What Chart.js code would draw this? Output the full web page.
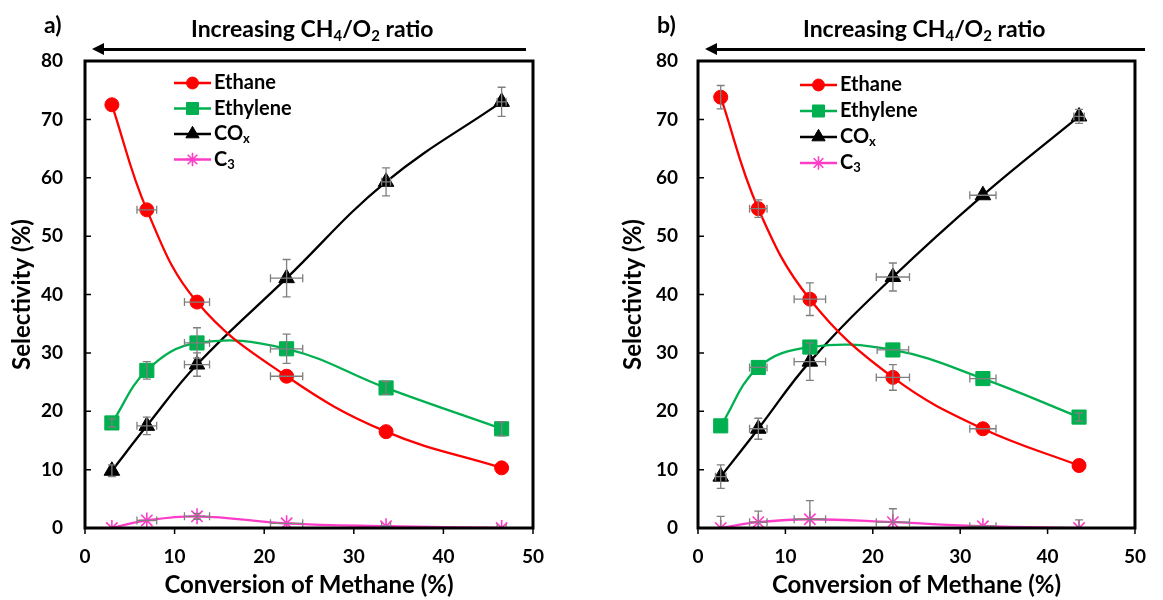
<!DOCTYPE html>
<html>
<head>
<meta charset="utf-8">
<script src="https://cdn.jsdelivr.net/npm/chart.js@4.4.0/dist/chart.umd.min.js"></script>
<style>
  body { margin: 0; background: #fff; font-family: Lato, 'Open Sans', sans-serif; }
  #wrap { position: relative; width: 1163px; height: 600px; overflow: hidden; }
  .panel { position: absolute; top: 0; height: 600px; }
  .tag, .head { position: absolute; font-weight: bold; font-size: 23px; line-height: 1.2; white-space: nowrap; color: #000; }
  .tag { top: 11px; }
  .head { top: 15px; }
  .head sub { font-size: 0.65em; position: relative; top: 0.3em; vertical-align: baseline; line-height: 0; }
  .arrow { position: absolute; top: 48px; height: 3px; background: #000; }
  .arrow:before { content: ''; position: absolute; left: -10px; top: -5px;
    border-right: 12px solid #000; border-top: 6.5px solid transparent; border-bottom: 6.5px solid transparent; }
</style>
</head>
<body>
<div id="wrap">
  <div class="panel" style="left:0;width:580px"><canvas id="chartA" width="580" height="600"></canvas></div>
  <div class="panel" style="left:580px;width:583px"><canvas id="chartB" width="583" height="600"></canvas></div>

  <div class="tag" style="left:44px">a)</div>
  <div class="head" style="left:191px">Increasing CH<sub>4</sub>/O<sub>2</sub> ratio</div>
  <div class="arrow" style="left:102px;width:424px"></div>

  <div class="tag" style="left:657px">b)</div>
  <div class="head" style="left:803px">Increasing CH<sub>4</sub>/O<sub>2</sub> ratio</div>
  <div class="arrow" style="left:715px;width:430px"></div>
</div>

<script>
// ---- panel a) data ----
const convA = [3.0, 6.9, 12.5, 22.5, 33.6, 46.5];
const ethaneA = [72.5, 54.5, 38.7, 26.0, 16.5, 10.3];
const ethyleneA = [18.0, 27.0, 31.7, 30.7, 24.0, 17.0];
const coxA = [9.8, 17.5, 28.0, 42.8, 59.3, 73.0];
const c3A = [0, 1.3, 2.0, 0.8, 0.3, 0];
// error bars (y then x)
const ethaneAyErr = [0, 0, 0, 0, 0, 0];
const ethaneAxErr = [0, 1.1, 1.4, 1.8, 0, 0];
const ethyleneAyErr = [0.7, 1.5, 2.6, 2.5, 1.1, 1.2];
const ethyleneAxErr = [0, 0, 1.4, 1.8, 0, 0];
const coxAyErr = [1.0, 1.5, 2.0, 3.2, 2.4, 2.5];
const coxAxErr = [0, 1.1, 1.4, 1.8, 0.5, 0.5];
const c3AyErr = [0, 0, 0.5, 0, 0, 0];
const c3AxErr = [0, 1.1, 1.4, 1.8, 0.5, 0.5];

// ---- panel b) data ----
const convB = [2.6, 6.9, 12.8, 22.3, 32.6, 43.6];
const ethaneB = [73.8, 54.7, 39.2, 25.8, 17.0, 10.7];
const ethyleneB = [17.5, 27.5, 31.0, 30.5, 25.6, 19.0];
const coxB = [8.8, 17.0, 28.5, 43.0, 57.0, 70.5];
const c3B = [0, 1.0, 1.5, 1.0, 0.3, 0];
const ethaneByErr = [2.0, 1.5, 2.8, 2.2, 0, 0];
const ethaneBxErr = [0, 1.0, 1.8, 1.9, 1.5, 0];
const ethyleneByErr = [0, 0, 0, 0, 0, 0.7];
const ethyleneBxErr = [0, 1.0, 0, 1.8, 1.5, 0];
const coxByErr = [2.0, 1.8, 3.2, 2.4, 0, 1.2];
const coxBxErr = [0.6, 1.0, 1.8, 1.9, 1.5, 0.6];
const c3ByErr = [2.0, 1.9, 3.2, 2.3, 0, 1.4];
const c3BxErr = [0, 1.0, 1.8, 1.9, 1.5, 0];

const xTicks = [0, 10, 20, 30, 40, 50];
const yTicks = [0, 10, 20, 30, 40, 50, 60, 70, 80];

const FONT = 'Lato, "Open Sans", sans-serif';

function pts(xs, ys) {
  return xs.map((x, i) => ({ x: x, y: ys[i] }));
}

function series(label, sub, xs, ys, yErr, xErr, color, style, radius) {
  return {
    label: label,
    sub: sub,
    data: pts(xs, ys),
    yErr: yErr,
    xErr: xErr,
    showLine: true,
    tension: 0.4,
    borderColor: color,
    backgroundColor: color,
    borderWidth: 2.3,
    pointStyle: style,
    pointRadius: radius,
    pointBorderColor: color,
    pointBackgroundColor: color,
    pointBorderWidth: style === 'star' ? 1.6 : 1
  };
}

// error bars, tick marks, frame and legend
const decorations = {
  id: 'decorations',
  afterDatasetsDraw(chart, args, opts) {
    const ctx = chart.ctx;
    const xs = chart.scales.x, ys = chart.scales.y;
    const area = chart.chartArea;

    // error bars on top of the markers
    ctx.save();
    ctx.beginPath();
    ctx.rect(area.left, area.top, area.right - area.left, area.bottom - area.top);
    ctx.clip();
    ctx.strokeStyle = '#7f7f7f';
    ctx.lineWidth = 1.3;
    const cap = 4;
    chart.data.datasets.forEach(ds => {
      ds.data.forEach((p, i) => {
        const px = xs.getPixelForValue(p.x), py = ys.getPixelForValue(p.y);
        const ye = ds.yErr[i], xe = ds.xErr[i];
        ctx.beginPath();
        if (ye > 0) {
          const t = ys.getPixelForValue(p.y + ye), b = ys.getPixelForValue(p.y - ye);
          ctx.moveTo(px, t); ctx.lineTo(px, b);
          ctx.moveTo(px - cap, t); ctx.lineTo(px + cap, t);
          ctx.moveTo(px - cap, b); ctx.lineTo(px + cap, b);
        }
        if (xe > 0) {
          const l = xs.getPixelForValue(p.x - xe), r = xs.getPixelForValue(p.x + xe);
          ctx.moveTo(l, py); ctx.lineTo(r, py);
          ctx.moveTo(l, py - cap); ctx.lineTo(l, py + cap);
          ctx.moveTo(r, py - cap); ctx.lineTo(r, py + cap);
        }
        ctx.stroke();
      });
    });
    ctx.restore();

    // frame
    ctx.save();
    ctx.strokeStyle = '#000';
    ctx.lineWidth = 3;
    ctx.strokeRect(area.left, area.top, area.right - area.left, area.bottom - area.top);
    ctx.lineWidth = 1.5;
    ctx.beginPath();
    xTicks.forEach(v => {
      const x = xs.getPixelForValue(v);
      ctx.moveTo(x, area.bottom); ctx.lineTo(x, area.bottom + 6);
    });
    yTicks.forEach(v => {
      const y = ys.getPixelForValue(v);
      ctx.moveTo(area.left, y); ctx.lineTo(area.left + 6, y);
    });
    ctx.stroke();
    ctx.restore();

    // legend
    ctx.save();
    chart.data.datasets.forEach((ds, i) => {
      const y = opts.legendY + i * opts.legendStep;
      const x1 = opts.legendX, x2 = opts.legendX + 37;
      ctx.strokeStyle = ds.borderColor;
      ctx.lineWidth = 2.3;
      ctx.beginPath();
      ctx.moveTo(x1, y); ctx.lineTo(x2, y);
      ctx.stroke();
      ctx.fillStyle = ds.pointBackgroundColor;
      ctx.strokeStyle = ds.pointBorderColor;
      ctx.lineWidth = ds.pointBorderWidth;
      Chart.helpers.drawPoint(ctx, { pointStyle: ds.pointStyle, radius: ds.pointRadius * 0.85, rotation: 0, borderWidth: ds.pointBorderWidth }, (x1 + x2) / 2, y);
      ctx.fillStyle = '#000';
      ctx.textBaseline = 'middle';
      ctx.font = 'bold 20px ' + FONT;
      ctx.fillText(ds.label, x2 + 3, y);
      if (ds.sub) {
        const w = ctx.measureText(ds.label).width;
        ctx.font = 'bold 13px ' + FONT;
        ctx.fillText(ds.sub, x2 + 3 + w, y + 5);
      }
    });
    ctx.restore();
  }
};

function makeChart(canvasId, sets, layout) {
  return new Chart(document.getElementById(canvasId), {
    type: 'scatter',
    data: { datasets: sets },
    plugins: [decorations],
    options: {
      responsive: false,
      animation: false,
      layout: { padding: { top: 61, right: layout.right, left: 0, bottom: 0 } },
      plugins: {
        legend: { display: false },
        tooltip: { enabled: false },
        decorations: { legendX: layout.legendX, legendY: layout.legendY, legendStep: layout.legendStep }
      },
      scales: {
        x: {
          type: 'linear',
          min: 0,
          max: 50,
          afterFit: s => { s.height = 72; },
          afterBuildTicks: s => { s.ticks = xTicks.map(v => ({ value: v })); },
          grid: { display: false, drawTicks: false },
          border: { display: false },
          ticks: { color: '#000', padding: 17, font: { family: FONT, size: 19, weight: 'bold' } },
          title: {
            display: true,
            text: 'Conversion of Methane (%)',
            color: '#000',
            padding: { top: 0, bottom: 0 },
            font: { family: FONT, size: 24, weight: 'bold' }
          }
        },
        y: {
          type: 'linear',
          min: 0,
          max: 80,
          afterFit: s => { s.width = layout.leftW; },
          afterBuildTicks: s => { s.ticks = yTicks.map(v => ({ value: v })); },
          grid: { display: false, drawTicks: false },
          border: { display: false },
          ticks: { color: '#000', padding: layout.tickPad, font: { family: FONT, size: 19, weight: 'bold' } },
          title: {
            display: true,
            text: 'Selectivity (%)',
            color: '#000',
            padding: { top: layout.titlePad, bottom: 0 },
            font: { family: FONT, size: 24, weight: 'bold' }
          }
        }
      }
    }
  });
}

const RED = '#ff0000', GREEN = '#00b050', BLACK = '#000000', PINK = '#ff3cc8';

const chartA = makeChart('chartA', [
  series('Ethane', '', convA, ethaneA, ethaneAyErr, ethaneAxErr, RED, 'circle', 7),
  series('Ethylene', '', convA, ethyleneA, ethyleneAyErr, ethyleneAxErr, GREEN, 'rect', 10),
  series('CO', 'x', convA, coxA, coxAyErr, coxAxErr, BLACK, 'triangle', 9),
  series('C', '3', convA, c3A, c3AyErr, c3AxErr, PINK, 'star', 8)
], { right: 47, leftW: 85, tickPad: 22, titlePad: 7.5, legendX: 174, legendY: 83, legendStep: 25.5 });

const chartB = makeChart('chartB', [
  series('Ethane', '', convB, ethaneB, ethaneByErr, ethaneBxErr, RED, 'circle', 7),
  series('Ethylene', '', convB, ethyleneB, ethyleneByErr, ethyleneBxErr, GREEN, 'rect', 10),
  series('CO', 'x', convB, coxB, coxByErr, coxBxErr, BLACK, 'triangle', 9),
  series('C', '3', convB, c3B, c3ByErr, c3BxErr, PINK, 'star', 8)
], { right: 13, leftW: 118, tickPad: 20, titlePad: 38.5, legendX: 220, legendY: 85, legendStep: 26 });
</script>
</body>
</html>
